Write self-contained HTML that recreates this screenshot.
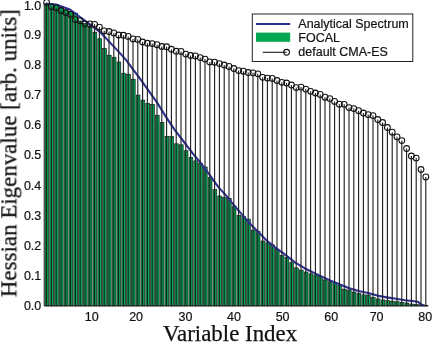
<!DOCTYPE html>
<html><head><meta charset="utf-8"><title>chart</title>
<style>
html,body{margin:0;padding:0;background:#fff;}
body{width:432px;height:343px;overflow:hidden;font-family:"Liberation Sans",sans-serif;}
svg{display:block}
</style></head><body>
<svg width="432" height="343" viewBox="0 0 432 343">
<defs><filter id="soft" x="-5%" y="-5%" width="110%" height="110%" color-interpolation-filters="sRGB"><feGaussianBlur stdDeviation="0.35"/></filter><filter id="xb" x="-2%" y="-2%" width="104%" height="104%" color-interpolation-filters="sRGB"><feConvolveMatrix order="3 1" kernelMatrix="1 6 1" edgeMode="duplicate"/></filter></defs>
<rect width="432" height="343" fill="#fff"/>
<g ><g fill="#00a651" stroke="#111" stroke-width="0.65"><rect x="45.02" y="3.60" width="3.75" height="302.30"/><rect x="49.82" y="4.60" width="3.75" height="301.30"/><rect x="54.62" y="4.80" width="3.75" height="301.10"/><rect x="59.42" y="7.90" width="3.75" height="298.00"/><rect x="64.22" y="9.80" width="3.75" height="296.10"/><rect x="69.02" y="11.70" width="3.75" height="294.20"/><rect x="73.83" y="13.10" width="3.75" height="292.80"/><rect x="78.62" y="21.00" width="3.75" height="284.90"/><rect x="83.42" y="23.50" width="3.75" height="282.40"/><rect x="88.22" y="27.30" width="3.75" height="278.60"/><rect x="93.02" y="32.20" width="3.75" height="273.70"/><rect x="97.83" y="38.70" width="3.75" height="267.20"/><rect x="102.62" y="48.50" width="3.75" height="257.40"/><rect x="107.42" y="55.20" width="3.75" height="250.70"/><rect x="112.23" y="57.30" width="3.75" height="248.60"/><rect x="117.02" y="62.00" width="3.75" height="243.90"/><rect x="121.83" y="73.20" width="3.75" height="232.70"/><rect x="126.62" y="74.30" width="3.75" height="231.60"/><rect x="131.43" y="79.20" width="3.75" height="226.70"/><rect x="136.23" y="95.10" width="3.75" height="210.80"/><rect x="141.03" y="100.10" width="3.75" height="205.80"/><rect x="145.83" y="103.30" width="3.75" height="202.60"/><rect x="150.62" y="104.40" width="3.75" height="201.50"/><rect x="155.43" y="115.20" width="3.75" height="190.70"/><rect x="160.22" y="122.40" width="3.75" height="183.50"/><rect x="165.03" y="136.40" width="3.75" height="169.50"/><rect x="169.83" y="136.40" width="3.75" height="169.50"/><rect x="174.62" y="143.80" width="3.75" height="162.10"/><rect x="179.43" y="144.80" width="3.75" height="161.10"/><rect x="184.22" y="150.70" width="3.75" height="155.20"/><rect x="189.03" y="157.30" width="3.75" height="148.60"/><rect x="193.82" y="160.80" width="3.75" height="145.10"/><rect x="198.62" y="163.30" width="3.75" height="142.60"/><rect x="203.43" y="167.00" width="3.75" height="138.90"/><rect x="208.22" y="177.30" width="3.75" height="128.60"/><rect x="213.03" y="189.40" width="3.75" height="116.50"/><rect x="217.82" y="196.00" width="3.75" height="109.90"/><rect x="222.62" y="197.60" width="3.75" height="108.30"/><rect x="227.43" y="198.50" width="3.75" height="107.40"/><rect x="232.22" y="206.10" width="3.75" height="99.80"/><rect x="237.03" y="215.40" width="3.75" height="90.50"/><rect x="241.82" y="216.40" width="3.75" height="89.50"/><rect x="246.62" y="219.20" width="3.75" height="86.70"/><rect x="251.43" y="230.00" width="3.75" height="75.90"/><rect x="256.23" y="231.30" width="3.75" height="74.60"/><rect x="261.03" y="241.00" width="3.75" height="64.90"/><rect x="265.82" y="242.80" width="3.75" height="63.10"/><rect x="270.62" y="244.90" width="3.75" height="61.00"/><rect x="275.43" y="249.60" width="3.75" height="56.30"/><rect x="280.23" y="255.50" width="3.75" height="50.40"/><rect x="285.03" y="257.40" width="3.75" height="48.50"/><rect x="289.82" y="262.60" width="3.75" height="43.30"/><rect x="294.62" y="267.90" width="3.75" height="38.00"/><rect x="299.43" y="270.10" width="3.75" height="35.80"/><rect x="304.23" y="272.00" width="3.75" height="33.90"/><rect x="309.03" y="273.80" width="3.75" height="32.10"/><rect x="313.83" y="275.00" width="3.75" height="30.90"/><rect x="318.62" y="276.60" width="3.75" height="29.30"/><rect x="323.43" y="279.90" width="3.75" height="26.00"/><rect x="328.23" y="281.70" width="3.75" height="24.20"/><rect x="333.03" y="282.60" width="3.75" height="23.30"/><rect x="337.83" y="285.40" width="3.75" height="20.50"/><rect x="342.62" y="289.20" width="3.75" height="16.70"/><rect x="347.43" y="290.10" width="3.75" height="15.80"/><rect x="352.23" y="292.00" width="3.75" height="13.90"/><rect x="357.03" y="293.30" width="3.75" height="12.60"/><rect x="361.83" y="294.80" width="3.75" height="11.10"/><rect x="366.62" y="295.10" width="3.75" height="10.80"/><rect x="371.43" y="297.50" width="3.75" height="8.40"/><rect x="376.23" y="298.90" width="3.75" height="7.00"/><rect x="381.03" y="299.90" width="3.75" height="6.00"/><rect x="385.83" y="300.60" width="3.75" height="5.30"/><rect x="390.62" y="301.20" width="3.75" height="4.70"/><rect x="395.43" y="301.70" width="3.75" height="4.20"/><rect x="400.23" y="302.30" width="3.75" height="3.60"/><rect x="405.03" y="303.00" width="3.75" height="2.90"/><rect x="409.83" y="304.00" width="3.75" height="1.90"/><rect x="414.62" y="304.50" width="3.75" height="1.40"/><rect x="419.43" y="305.00" width="3.75" height="0.90"/><rect x="424.23" y="305.30" width="3.75" height="0.60"/></g></g><g stroke="#1a1a1a" stroke-width="1.0" opacity="1"><line x1="46.60" y1="3.60" x2="46.60" y2="305.90"/><line x1="51.40" y1="6.70" x2="51.40" y2="305.90"/><line x1="56.20" y1="7.70" x2="56.20" y2="305.90"/><line x1="61.00" y1="10.50" x2="61.00" y2="305.90"/><line x1="65.80" y1="12.60" x2="65.80" y2="305.90"/><line x1="70.60" y1="14.40" x2="70.60" y2="305.90"/><line x1="75.40" y1="19.60" x2="75.40" y2="305.90"/><line x1="80.20" y1="21.00" x2="80.20" y2="305.90"/><line x1="85.00" y1="23.80" x2="85.00" y2="305.90"/><line x1="89.80" y1="27.30" x2="89.80" y2="305.90"/><line x1="94.60" y1="32.20" x2="94.60" y2="305.90"/><line x1="99.40" y1="38.70" x2="99.40" y2="305.90"/><line x1="104.20" y1="48.50" x2="104.20" y2="305.90"/><line x1="109.00" y1="55.20" x2="109.00" y2="305.90"/><line x1="113.80" y1="57.30" x2="113.80" y2="305.90"/><line x1="118.60" y1="62.00" x2="118.60" y2="305.90"/><line x1="123.40" y1="73.20" x2="123.40" y2="305.90"/><line x1="128.20" y1="74.30" x2="128.20" y2="305.90"/><line x1="133.00" y1="79.20" x2="133.00" y2="305.90"/><line x1="137.80" y1="95.10" x2="137.80" y2="305.90"/><line x1="142.60" y1="100.10" x2="142.60" y2="305.90"/><line x1="147.40" y1="103.30" x2="147.40" y2="305.90"/><line x1="152.20" y1="104.40" x2="152.20" y2="305.90"/><line x1="157.00" y1="115.20" x2="157.00" y2="305.90"/><line x1="161.80" y1="122.40" x2="161.80" y2="305.90"/><line x1="166.60" y1="136.40" x2="166.60" y2="305.90"/><line x1="171.40" y1="136.40" x2="171.40" y2="305.90"/><line x1="176.20" y1="143.80" x2="176.20" y2="305.90"/><line x1="181.00" y1="144.80" x2="181.00" y2="305.90"/><line x1="185.80" y1="150.70" x2="185.80" y2="305.90"/><line x1="190.60" y1="157.30" x2="190.60" y2="305.90"/><line x1="195.40" y1="160.80" x2="195.40" y2="305.90"/><line x1="200.20" y1="163.30" x2="200.20" y2="305.90"/><line x1="205.00" y1="167.00" x2="205.00" y2="305.90"/><line x1="209.80" y1="177.30" x2="209.80" y2="305.90"/><line x1="214.60" y1="189.40" x2="214.60" y2="305.90"/><line x1="219.40" y1="196.00" x2="219.40" y2="305.90"/><line x1="224.20" y1="197.60" x2="224.20" y2="305.90"/><line x1="229.00" y1="198.50" x2="229.00" y2="305.90"/><line x1="233.80" y1="206.10" x2="233.80" y2="305.90"/><line x1="238.60" y1="215.40" x2="238.60" y2="305.90"/><line x1="243.40" y1="216.40" x2="243.40" y2="305.90"/><line x1="248.20" y1="219.20" x2="248.20" y2="305.90"/><line x1="253.00" y1="230.00" x2="253.00" y2="305.90"/><line x1="257.80" y1="231.30" x2="257.80" y2="305.90"/><line x1="262.60" y1="241.00" x2="262.60" y2="305.90"/><line x1="267.40" y1="242.80" x2="267.40" y2="305.90"/><line x1="272.20" y1="244.90" x2="272.20" y2="305.90"/><line x1="277.00" y1="249.60" x2="277.00" y2="305.90"/><line x1="281.80" y1="255.50" x2="281.80" y2="305.90"/><line x1="286.60" y1="257.40" x2="286.60" y2="305.90"/><line x1="291.40" y1="262.60" x2="291.40" y2="305.90"/><line x1="296.20" y1="267.90" x2="296.20" y2="305.90"/><line x1="301.00" y1="270.10" x2="301.00" y2="305.90"/><line x1="305.80" y1="272.00" x2="305.80" y2="305.90"/><line x1="310.60" y1="273.80" x2="310.60" y2="305.90"/><line x1="315.40" y1="275.00" x2="315.40" y2="305.90"/><line x1="320.20" y1="276.60" x2="320.20" y2="305.90"/><line x1="325.00" y1="279.90" x2="325.00" y2="305.90"/><line x1="329.80" y1="281.70" x2="329.80" y2="305.90"/><line x1="334.60" y1="282.60" x2="334.60" y2="305.90"/><line x1="339.40" y1="285.40" x2="339.40" y2="305.90"/><line x1="344.20" y1="289.20" x2="344.20" y2="305.90"/><line x1="349.00" y1="290.10" x2="349.00" y2="305.90"/><line x1="353.80" y1="292.00" x2="353.80" y2="305.90"/><line x1="358.60" y1="293.30" x2="358.60" y2="305.90"/><line x1="363.40" y1="294.80" x2="363.40" y2="305.90"/><line x1="368.20" y1="295.10" x2="368.20" y2="305.90"/><line x1="373.00" y1="297.50" x2="373.00" y2="305.90"/><line x1="377.80" y1="298.90" x2="377.80" y2="305.90"/><line x1="382.60" y1="299.90" x2="382.60" y2="305.90"/><line x1="387.40" y1="300.60" x2="387.40" y2="305.90"/><line x1="392.20" y1="301.20" x2="392.20" y2="305.90"/><line x1="397.00" y1="301.70" x2="397.00" y2="305.90"/><line x1="401.80" y1="302.30" x2="401.80" y2="305.90"/><line x1="406.60" y1="303.00" x2="406.60" y2="305.90"/><line x1="411.40" y1="304.00" x2="411.40" y2="305.90"/><line x1="416.20" y1="304.50" x2="416.20" y2="305.90"/><line x1="421.00" y1="305.00" x2="421.00" y2="305.90"/><line x1="425.80" y1="305.30" x2="425.80" y2="305.90"/></g>
<polyline points="46.6,3.8 56.0,4.5 70.0,9.5 84.0,20.2 100.3,32.2 116.7,49.6 125.6,59.4 133.0,69.3 138.7,76.8 148.0,89.9 157.3,102.9 165.3,115.9 174.7,129.9 184.0,142.0 193.3,154.1 199.5,161.5 208.7,173.6 218.0,186.6 227.3,196.9 233.3,204.3 242.7,215.4 252.0,225.7 261.3,235.0 267.3,241.2 276.7,248.6 286.0,255.2 295.3,262.6 304.6,268.2 314.0,272.9 321.4,276.4 330.7,280.8 340.0,284.5 349.3,288.2 358.6,291.0 368.0,293.0 377.3,295.6 386.7,297.4 396.0,298.8 405.3,300.2 414.6,301.2 418.4,302.1 421.2,304.5 424.5,305.6" fill="none" stroke="#2e3192" stroke-width="2.1" stroke-linejoin="round"/>
<g stroke="#1a1a1a" stroke-width="1.1"><line x1="46.60" y1="2.40" x2="46.60" y2="3.60"/><line x1="80.20" y1="20.70" x2="80.20" y2="21.00"/><line x1="89.80" y1="23.80" x2="89.80" y2="27.30"/><line x1="94.60" y1="24.30" x2="94.60" y2="32.20"/><line x1="99.40" y1="27.10" x2="99.40" y2="38.70"/><line x1="104.20" y1="30.80" x2="104.20" y2="48.50"/><line x1="109.00" y1="31.50" x2="109.00" y2="55.20"/><line x1="113.80" y1="32.90" x2="113.80" y2="57.30"/><line x1="118.60" y1="35.00" x2="118.60" y2="62.00"/><line x1="123.40" y1="35.30" x2="123.40" y2="73.20"/><line x1="128.20" y1="36.40" x2="128.20" y2="74.30"/><line x1="133.00" y1="38.90" x2="133.00" y2="79.20"/><line x1="137.80" y1="39.40" x2="137.80" y2="95.10"/><line x1="142.60" y1="42.00" x2="142.60" y2="100.10"/><line x1="147.40" y1="43.30" x2="147.40" y2="103.30"/><line x1="152.20" y1="43.60" x2="152.20" y2="104.40"/><line x1="157.00" y1="44.70" x2="157.00" y2="115.20"/><line x1="161.80" y1="46.50" x2="161.80" y2="122.40"/><line x1="166.60" y1="46.80" x2="166.60" y2="136.40"/><line x1="171.40" y1="49.30" x2="171.40" y2="136.40"/><line x1="176.20" y1="51.30" x2="176.20" y2="143.80"/><line x1="181.00" y1="51.40" x2="181.00" y2="144.80"/><line x1="185.80" y1="54.10" x2="185.80" y2="150.70"/><line x1="190.60" y1="55.50" x2="190.60" y2="157.30"/><line x1="195.40" y1="55.90" x2="195.40" y2="160.80"/><line x1="200.20" y1="57.60" x2="200.20" y2="163.30"/><line x1="205.00" y1="59.10" x2="205.00" y2="167.00"/><line x1="209.80" y1="61.90" x2="209.80" y2="177.30"/><line x1="214.60" y1="62.20" x2="214.60" y2="189.40"/><line x1="219.40" y1="63.60" x2="219.40" y2="196.00"/><line x1="224.20" y1="65.00" x2="224.20" y2="197.60"/><line x1="229.00" y1="66.40" x2="229.00" y2="198.50"/><line x1="233.80" y1="68.50" x2="233.80" y2="206.10"/><line x1="238.60" y1="70.60" x2="238.60" y2="215.40"/><line x1="243.40" y1="71.20" x2="243.40" y2="216.40"/><line x1="248.20" y1="72.50" x2="248.20" y2="219.20"/><line x1="253.00" y1="72.80" x2="253.00" y2="230.00"/><line x1="257.80" y1="73.80" x2="257.80" y2="231.30"/><line x1="262.60" y1="77.30" x2="262.60" y2="241.00"/><line x1="267.40" y1="78.10" x2="267.40" y2="242.80"/><line x1="272.20" y1="78.40" x2="272.20" y2="244.90"/><line x1="277.00" y1="80.50" x2="277.00" y2="249.60"/><line x1="281.80" y1="82.30" x2="281.80" y2="255.50"/><line x1="286.60" y1="83.00" x2="286.60" y2="257.40"/><line x1="291.40" y1="85.00" x2="291.40" y2="262.60"/><line x1="296.20" y1="87.60" x2="296.20" y2="267.90"/><line x1="301.00" y1="87.10" x2="301.00" y2="270.10"/><line x1="305.80" y1="89.10" x2="305.80" y2="272.00"/><line x1="310.60" y1="91.30" x2="310.60" y2="273.80"/><line x1="315.40" y1="93.00" x2="315.40" y2="275.00"/><line x1="320.20" y1="94.40" x2="320.20" y2="276.60"/><line x1="325.00" y1="97.20" x2="325.00" y2="279.90"/><line x1="329.80" y1="98.60" x2="329.80" y2="281.70"/><line x1="334.60" y1="101.40" x2="334.60" y2="282.60"/><line x1="339.40" y1="104.20" x2="339.40" y2="285.40"/><line x1="344.20" y1="104.30" x2="344.20" y2="289.20"/><line x1="349.00" y1="107.60" x2="349.00" y2="290.10"/><line x1="353.80" y1="108.60" x2="353.80" y2="292.00"/><line x1="358.60" y1="110.70" x2="358.60" y2="293.30"/><line x1="363.40" y1="113.00" x2="363.40" y2="294.80"/><line x1="368.20" y1="114.60" x2="368.20" y2="295.10"/><line x1="373.00" y1="115.60" x2="373.00" y2="297.50"/><line x1="377.80" y1="119.50" x2="377.80" y2="298.90"/><line x1="382.60" y1="122.50" x2="382.60" y2="299.90"/><line x1="387.40" y1="127.50" x2="387.40" y2="300.60"/><line x1="392.20" y1="132.20" x2="392.20" y2="301.20"/><line x1="397.00" y1="136.80" x2="397.00" y2="301.70"/><line x1="401.80" y1="140.60" x2="401.80" y2="302.30"/><line x1="406.60" y1="148.50" x2="406.60" y2="303.00"/><line x1="411.40" y1="156.00" x2="411.40" y2="304.00"/><line x1="416.20" y1="158.10" x2="416.20" y2="304.50"/><line x1="421.00" y1="169.50" x2="421.00" y2="305.00"/><line x1="425.80" y1="176.90" x2="425.80" y2="305.30"/></g>
<g fill="none" stroke="#111" stroke-width="1.05"><circle cx="46.60" cy="2.40" r="2.9"/><circle cx="51.40" cy="6.70" r="2.9"/><circle cx="56.20" cy="7.70" r="2.9"/><circle cx="61.00" cy="10.50" r="2.9"/><circle cx="65.80" cy="12.60" r="2.9"/><circle cx="70.60" cy="14.40" r="2.9"/><circle cx="75.40" cy="19.60" r="2.9"/><circle cx="80.20" cy="20.70" r="2.9"/><circle cx="85.00" cy="23.80" r="2.9"/><circle cx="89.80" cy="23.80" r="2.9"/><circle cx="94.60" cy="24.30" r="2.9"/><circle cx="99.40" cy="27.10" r="2.9"/><circle cx="104.20" cy="30.80" r="2.9"/><circle cx="109.00" cy="31.50" r="2.9"/><circle cx="113.80" cy="32.90" r="2.9"/><circle cx="118.60" cy="35.00" r="2.9"/><circle cx="123.40" cy="35.30" r="2.9"/><circle cx="128.20" cy="36.40" r="2.9"/><circle cx="133.00" cy="38.90" r="2.9"/><circle cx="137.80" cy="39.40" r="2.9"/><circle cx="142.60" cy="42.00" r="2.9"/><circle cx="147.40" cy="43.30" r="2.9"/><circle cx="152.20" cy="43.60" r="2.9"/><circle cx="157.00" cy="44.70" r="2.9"/><circle cx="161.80" cy="46.50" r="2.9"/><circle cx="166.60" cy="46.80" r="2.9"/><circle cx="171.40" cy="49.30" r="2.9"/><circle cx="176.20" cy="51.30" r="2.9"/><circle cx="181.00" cy="51.40" r="2.9"/><circle cx="185.80" cy="54.10" r="2.9"/><circle cx="190.60" cy="55.50" r="2.9"/><circle cx="195.40" cy="55.90" r="2.9"/><circle cx="200.20" cy="57.60" r="2.9"/><circle cx="205.00" cy="59.10" r="2.9"/><circle cx="209.80" cy="61.90" r="2.9"/><circle cx="214.60" cy="62.20" r="2.9"/><circle cx="219.40" cy="63.60" r="2.9"/><circle cx="224.20" cy="65.00" r="2.9"/><circle cx="229.00" cy="66.40" r="2.9"/><circle cx="233.80" cy="68.50" r="2.9"/><circle cx="238.60" cy="70.60" r="2.9"/><circle cx="243.40" cy="71.20" r="2.9"/><circle cx="248.20" cy="72.50" r="2.9"/><circle cx="253.00" cy="72.80" r="2.9"/><circle cx="257.80" cy="73.80" r="2.9"/><circle cx="262.60" cy="77.30" r="2.9"/><circle cx="267.40" cy="78.10" r="2.9"/><circle cx="272.20" cy="78.40" r="2.9"/><circle cx="277.00" cy="80.50" r="2.9"/><circle cx="281.80" cy="82.30" r="2.9"/><circle cx="286.60" cy="83.00" r="2.9"/><circle cx="291.40" cy="85.00" r="2.9"/><circle cx="296.20" cy="87.60" r="2.9"/><circle cx="301.00" cy="87.10" r="2.9"/><circle cx="305.80" cy="89.10" r="2.9"/><circle cx="310.60" cy="91.30" r="2.9"/><circle cx="315.40" cy="93.00" r="2.9"/><circle cx="320.20" cy="94.40" r="2.9"/><circle cx="325.00" cy="97.20" r="2.9"/><circle cx="329.80" cy="98.60" r="2.9"/><circle cx="334.60" cy="101.40" r="2.9"/><circle cx="339.40" cy="104.20" r="2.9"/><circle cx="344.20" cy="104.30" r="2.9"/><circle cx="349.00" cy="107.60" r="2.9"/><circle cx="353.80" cy="108.60" r="2.9"/><circle cx="358.60" cy="110.70" r="2.9"/><circle cx="363.40" cy="113.00" r="2.9"/><circle cx="368.20" cy="114.60" r="2.9"/><circle cx="373.00" cy="115.60" r="2.9"/><circle cx="377.80" cy="119.50" r="2.9"/><circle cx="382.60" cy="122.50" r="2.9"/><circle cx="387.40" cy="127.50" r="2.9"/><circle cx="392.20" cy="132.20" r="2.9"/><circle cx="397.00" cy="136.80" r="2.9"/><circle cx="401.80" cy="140.60" r="2.9"/><circle cx="406.60" cy="148.50" r="2.9"/><circle cx="411.40" cy="156.00" r="2.9"/><circle cx="416.20" cy="158.10" r="2.9"/><circle cx="421.00" cy="169.50" r="2.9"/><circle cx="425.80" cy="176.90" r="2.9"/></g>
<path d="M44.2,4 V305.9 H428" fill="none" stroke="#222" stroke-width="1"/>
<rect x="252.3" y="14" width="160.5" height="47.5" fill="#fff" stroke="#222" stroke-width="1"/>
<line x1="256" y1="24" x2="290.2" y2="24" stroke="#2e3192" stroke-width="2.1"/>
<rect x="256" y="32.6" width="34.2" height="9.2" fill="#00a651"/>
<line x1="262.7" y1="52.3" x2="286.6" y2="52.3" stroke="#1a1a1a" stroke-width="1.1"/>
<circle cx="286.6" cy="52.3" r="2.9" fill="none" stroke="#111" stroke-width="1.05"/>
<g filter="url(#soft)" style="font-family:'Liberation Sans',sans-serif;font-size:12.5px;fill:#111;stroke:#111;stroke-width:0.2px"><text x="41.3" y="310.1" text-anchor="end">0.0</text>
<text x="41.3" y="280.0" text-anchor="end">0.1</text>
<text x="41.3" y="249.8" text-anchor="end">0.2</text>
<text x="41.3" y="219.6" text-anchor="end">0.3</text>
<text x="41.3" y="189.5" text-anchor="end">0.4</text>
<text x="41.3" y="159.3" text-anchor="end">0.5</text>
<text x="41.3" y="129.1" text-anchor="end">0.6</text>
<text x="41.3" y="99.0" text-anchor="end">0.7</text>
<text x="41.3" y="68.8" text-anchor="end">0.8</text>
<text x="41.3" y="38.6" text-anchor="end">0.9</text>
<text x="41.3" y="9.9" text-anchor="end">1.0</text>
<text x="91.7" y="321" text-anchor="middle">10</text>
<text x="136.1" y="321" text-anchor="middle">20</text>
<text x="185.4" y="321" text-anchor="middle">30</text>
<text x="233.9" y="321" text-anchor="middle">40</text>
<text x="282.6" y="321" text-anchor="middle">50</text>
<text x="331.3" y="321" text-anchor="middle">60</text>
<text x="376.6" y="321" text-anchor="middle">70</text>
<text x="425.3" y="321" text-anchor="middle">80</text>
<text x="298.3" y="28.2">Analytical Spectrum</text>
<text x="298.3" y="41.8">FOCAL</text>
<text x="298.3" y="55.5">default CMA-ES</text></g>
<g filter="url(#soft)" style="font-family:'Liberation Serif',serif;font-size:22.9px;fill:#111;stroke:#111;stroke-width:0.25px"><text id="xl" x="230.1" y="340.6" text-anchor="middle">Variable Index</text><text id="yl" style="font-size:22.95px" transform="translate(16.3,153.2) rotate(-90)" text-anchor="middle">Hessian Eigenvalue [arb. units]</text></g>
</svg>
</body></html>
